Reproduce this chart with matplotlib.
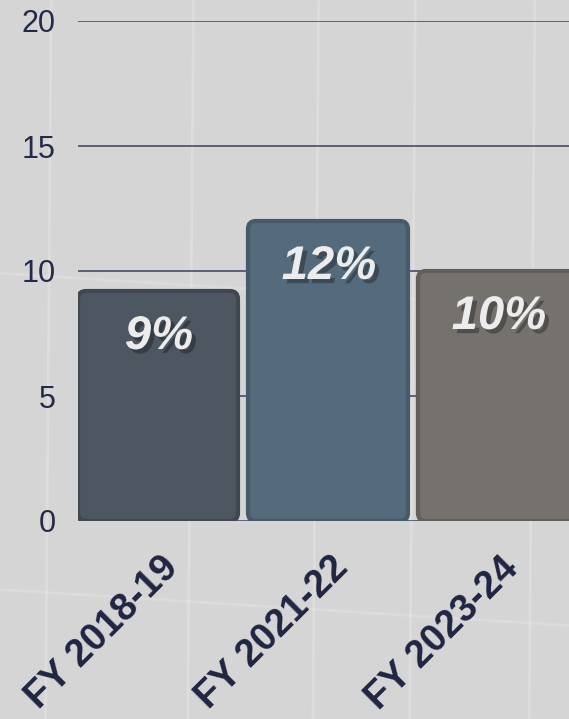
import matplotlib
matplotlib.use('Agg')
import matplotlib.pyplot as plt
from matplotlib.patches import FancyBboxPatch
from matplotlib.lines import Line2D
from matplotlib import patheffects
from matplotlib.transforms import ScaledTranslation

categories = ['FY 2018-19', 'FY 2021-22', 'FY 2023-24']
values = [9.2, 12, 10]
bar_labels = ['9%', '12%', '10%']
bar_colors = ['#4d5661', '#546a7d', '#75716c']
edge_colors = ['#3f474f', '#465a6a', '#625e59']

plt.rcParams['font.family'] = ['Liberation Sans', 'DejaVu Sans']

fig = plt.figure(figsize=(5.69, 7.19), dpi=100)
fig.patch.set_facecolor('#d5d5d6')

# faint texture lines in the background
for fx in [0.08, 0.33, 0.55, 0.72, 0.93]:
    fig.add_artist(Line2D([fx, fx + 0.01], [0, 1], color='white', alpha=0.2, lw=2, zorder=0))
for fy in [0.18, 0.62]:
    fig.add_artist(Line2D([0, 1], [fy, fy - 0.05], color='white', alpha=0.15, lw=2, zorder=0))

ax = fig.add_axes([78 / 569, 1 - 521 / 719, 1 - 78 / 569, 500 / 719])
ax.set_facecolor('none')

x = list(range(len(categories)))
width = 160 / 170
bars = ax.bar(x, values, width=width, color='none', edgecolor='none', zorder=2)

ax.set_xlim(-width / 2, 2.418)
ax.set_ylim(0, 20)

# replace plain bars with rounded ones
for rect, fc, ec in zip(bars, bar_colors, edge_colors):
    p = FancyBboxPatch((rect.get_x(), rect.get_y()), rect.get_width(), rect.get_height(),
                       boxstyle='round,pad=0,rounding_size=0.047', mutation_aspect=6.8,
                       facecolor=fc, edgecolor=ec, linewidth=3, zorder=3)
    ax.add_patch(p)

for rect, lab in zip(bars, bar_labels):
    ax.annotate(lab, (rect.get_x() + rect.get_width() / 2, rect.get_height()),
                xytext=(1, -46), textcoords='offset pixels', ha='center', va='center',
                fontsize=34, fontweight='bold', fontstyle='italic', color='#ececec', zorder=5,
                path_effects=[patheffects.withSimplePatchShadow(offset=(3, -3), shadow_rgbFace='black', alpha=0.3)])

ax.set_yticks([0, 5, 10, 15, 20])
ax.grid(axis='y', color='#3b4060', linewidth=1.1, zorder=1)
ax.set_axisbelow(True)
for s in ax.spines.values():
    s.set_visible(False)
ax.tick_params(axis='y', length=0, pad=16, labelsize=22, labelcolor='#252a48')
ax.tick_params(axis='x', length=0, pad=30)

ax.set_xticks(x)
ax.set_xticklabels(categories, rotation=45, ha='right', va='center', rotation_mode='anchor',
                   fontsize=27.5, fontweight='bold', color='#1f2442')
for lab in ax.get_xticklabels():
    lab.set_transform(lab.get_transform() + ScaledTranslation(0.15, 0, fig.dpi_scale_trans))

fig.savefig('out.png', dpi=100, facecolor=fig.get_facecolor())
